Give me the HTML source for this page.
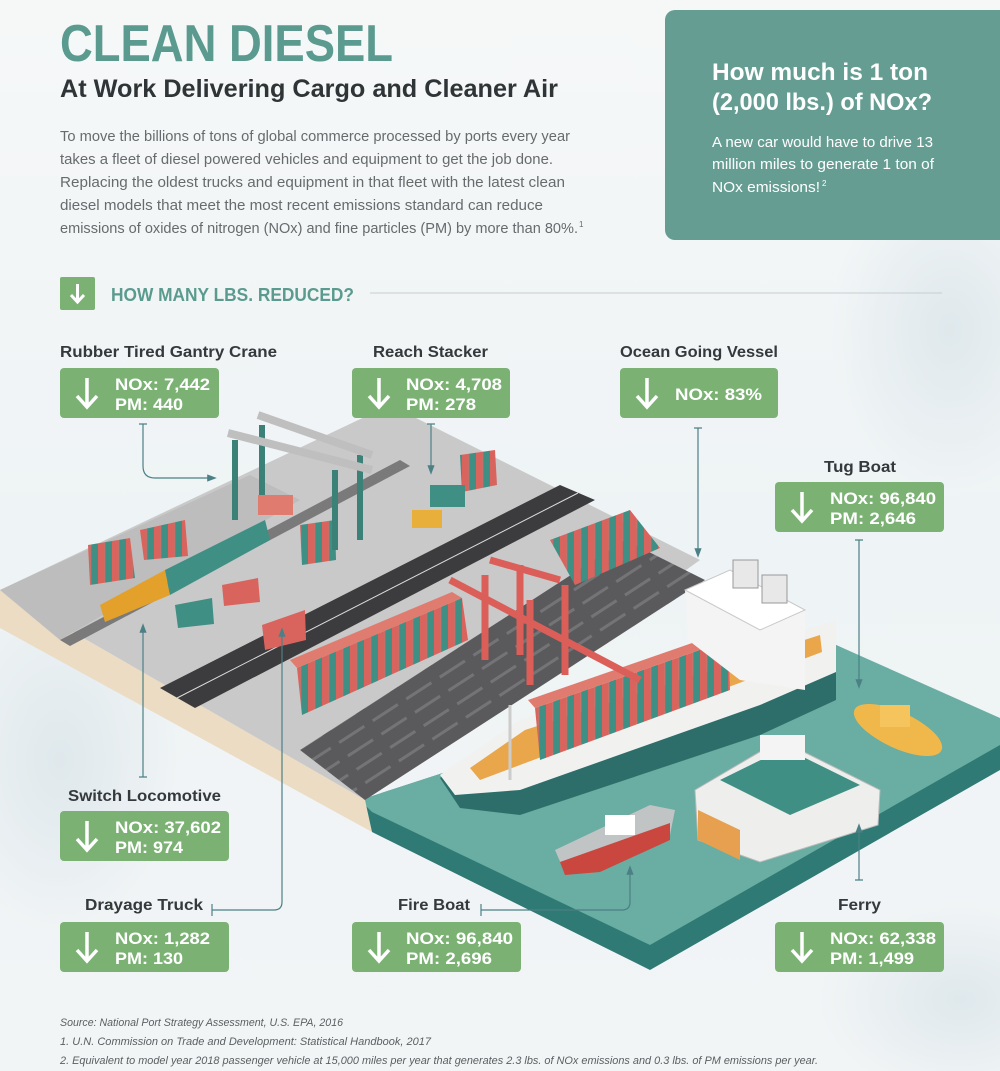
<!DOCTYPE html>
<html><head><meta charset="utf-8"><style>
html,body{margin:0;padding:0;}
body{width:1000px;height:1071px;overflow:hidden;background:#f3f6f7;}
svg{display:block;}
text{font-family:"Liberation Sans",sans-serif;}
</style></head><body>
<svg width="1000" height="1071" viewBox="0 0 1000 1071" xmlns="http://www.w3.org/2000/svg">
<defs>
<linearGradient id="bg" x1="0" y1="0" x2="0" y2="1">
<stop offset="0" stop-color="#f6f8f8"/><stop offset="0.5" stop-color="#eef3f5"/><stop offset="1" stop-color="#f2f5f6"/>
</linearGradient>
<radialGradient id="cl" cx="0.5" cy="0.5" r="0.5"><stop offset="0" stop-color="#dfe8ec"/><stop offset="1" stop-color="#dfe8ec" stop-opacity="0"/></radialGradient>
<pattern id="ct" width="14" height="10" patternUnits="userSpaceOnUse" patternTransform="skewY(-22)">
<rect width="7" height="10" fill="#d9645e"/><rect x="7" width="7" height="10" fill="#3f8f84"/>
</pattern>
<pattern id="ap" width="40" height="16" patternUnits="userSpaceOnUse" patternTransform="rotate(-33)">
<rect width="40" height="16" fill="#5a5a5c"/><rect y="6" width="30" height="3" fill="#747476"/>
</pattern>
<marker id="ar" markerWidth="8" markerHeight="8" refX="4" refY="4" orient="auto"><path d="M0,1 L8,4 L0,7 z" fill="#4b8085"/></marker>
</defs>
<rect width="1000" height="1071" fill="url(#bg)"/>
<ellipse cx="60" cy="760" rx="120" ry="180" fill="url(#cl)"/>
<ellipse cx="950" cy="330" rx="120" ry="160" fill="url(#cl)"/>
<ellipse cx="960" cy="1000" rx="140" ry="100" fill="url(#cl)"/>

<!-- header -->
<text x="60" y="61" font-size="52" font-weight="bold" fill="#5b9b8f" textLength="333" lengthAdjust="spacingAndGlyphs">CLEAN DIESEL</text>
<text x="60" y="97" font-size="25" font-weight="bold" fill="#2f3436" textLength="498" lengthAdjust="spacingAndGlyphs">At Work Delivering Cargo and Cleaner Air</text>
<g font-size="14.5" fill="#676b6d">
<text x="60" y="141" textLength="510" lengthAdjust="spacingAndGlyphs">To move the billions of tons of global commerce processed by ports every year</text>
<text x="60" y="164" textLength="493" lengthAdjust="spacingAndGlyphs">takes a fleet of diesel powered vehicles and equipment to get the job done.</text>
<text x="60" y="187" textLength="505" lengthAdjust="spacingAndGlyphs">Replacing the oldest trucks and equipment in that fleet with the latest clean</text>
<text x="60" y="210" textLength="483" lengthAdjust="spacingAndGlyphs">diesel models that meet the most recent emissions standard can reduce</text>
<text x="60" y="233" textLength="518" lengthAdjust="spacingAndGlyphs">emissions of oxides of nitrogen (NOx) and fine particles (PM) by more than 80%.</text>
<text x="579" y="227" font-size="8">1</text>
</g>
<rect x="665" y="10" width="345" height="230" rx="10" fill="#669d93"/>
<text x="712" y="80" font-size="24" font-weight="bold" fill="#fff" textLength="216" lengthAdjust="spacingAndGlyphs">How much is 1 ton</text>
<text x="712" y="110" font-size="24" font-weight="bold" fill="#fff" textLength="220" lengthAdjust="spacingAndGlyphs">(2,000 lbs.) of NOx?</text>
<g font-size="14.5" fill="#fff">
<text x="712" y="147" textLength="221" lengthAdjust="spacingAndGlyphs">A new car would have to drive 13</text>
<text x="712" y="169" textLength="222" lengthAdjust="spacingAndGlyphs">million miles to generate 1 ton of</text>
<text x="712" y="192" textLength="108" lengthAdjust="spacingAndGlyphs">NOx emissions!</text>
<text x="822" y="186" font-size="8">2</text>
</g>
<rect x="60" y="277" width="35" height="33" rx="2" fill="#7bb274"/>
<path d="M77.5,284 V301 M71,295 L77.5,302 L84,295" stroke="#fff" stroke-width="3" fill="none"/>
<text x="111" y="301" font-size="18" font-weight="bold" fill="#5b9b8f" textLength="243" lengthAdjust="spacingAndGlyphs">HOW MANY LBS. REDUCED?</text>
<line x1="370" y1="293" x2="942" y2="293" stroke="#c3cfd2" stroke-width="1"/>

<!-- illustration -->
<!-- water -->
<polygon points="360,800 836,645 1000,720 1000,770 650,970 372,832" fill="#2f7a74"/>
<polygon points="360,800 836,645 1000,718 1000,745 650,945 372,812" fill="#69ada3"/>
<!-- dock slab -->
<polygon points="0,590 365,800 372,832 0,628" fill="#ecdcc4"/>
<polygon points="0,590 390,405 700,560 365,800" fill="#c9c9c9"/>
<polygon points="0,590 250,475 300,500 60,640" fill="#bdbdbd"/>
<polygon points="300,750 625,540 705,580 365,800" fill="url(#ap)"/>
<polygon points="160,688 560,485 595,500 195,708" fill="#3c3c3e"/>
<line x1="177" y1="698" x2="578" y2="493" stroke="#ddd" stroke-width="1"/>
<polygon points="60,640 400,460 410,466 70,646" fill="#7a7a7a"/>
<!-- containers on dock -->
<polygon points="297,668 462,598 468,640 302,715" fill="url(#ct)"/>
<polygon points="297,668 462,598 452,592 290,660" fill="#e07b70"/>
<polygon points="550,540 630,510 660,548 575,585" fill="url(#ct)"/>
<polygon points="460,455 495,450 497,485 462,492" fill="url(#ct)"/>
<polygon points="88,545 130,538 135,578 90,585" fill="url(#ct)"/>
<polygon points="140,530 185,520 188,556 144,560" fill="url(#ct)"/>
<polygon points="175,605 212,598 214,624 178,628" fill="#3f8f84"/>
<polygon points="222,585 258,578 260,602 224,606" fill="#d9645e"/>
<polygon points="262,625 305,610 306,640 265,650" fill="#d9645e"/>
<polygon points="300,525 335,520 336,560 302,565" fill="url(#ct)"/>
<!-- train -->
<polygon points="100,605 165,570 170,595 105,622" fill="#e3a12b"/>
<polygon points="165,570 265,520 270,540 170,595" fill="#3f8f84"/>
<!-- gantry crane -->
<g stroke="#3c8178" stroke-width="6" fill="none">
<line x1="235" y1="440" x2="235" y2="520"/><line x1="262" y1="425" x2="262" y2="508"/>
<line x1="335" y1="470" x2="335" y2="550"/><line x1="360" y1="455" x2="360" y2="540"/>
</g>
<line x1="228" y1="433" x2="372" y2="470" stroke="#bfbfbf" stroke-width="8"/>
<line x1="258" y1="415" x2="372" y2="455" stroke="#bfbfbf" stroke-width="8"/>
<rect x="258" y="495" width="35" height="20" fill="#e07b70"/>
<!-- reach stacker -->
<rect x="412" y="510" width="30" height="18" fill="#e8b03a"/>
<rect x="430" y="485" width="35" height="22" fill="#3f8f84"/>
<!-- ship -->
<polygon points="440,778 520,722 836,622 836,700 760,735 520,815 460,808" fill="#2d6e6a"/>
<polygon points="440,775 520,720 836,620 836,672 760,705 520,790 455,795" fill="#f1f1ef"/>
<polygon points="470,768 525,730 820,635 822,652 520,765 480,780" fill="#e9a64a"/>
<polygon points="535,708 728,640 730,690 540,760" fill="url(#ct)"/>
<polygon points="535,708 728,640 718,634 528,700" fill="#e07b70"/>
<polygon points="685,590 730,570 805,610 805,690 740,680 688,640" fill="#f4f4f4"/>
<polygon points="685,590 730,570 805,610 760,630" fill="#fff" stroke="#c8c8c8"/>
<rect x="733" y="560" width="25" height="28" fill="#e8e8e8" stroke="#999"/>
<rect x="762" y="575" width="25" height="28" fill="#e8e8e8" stroke="#999"/>
<line x1="510" y1="705" x2="510" y2="780" stroke="#ccc" stroke-width="3"/>
<!-- red crane -->
<g stroke="#dc5e58" stroke-width="7" fill="none">
<line x1="450" y1="580" x2="640" y2="680"/>
<line x1="490" y1="560" x2="560" y2="580"/>
<line x1="485" y1="575" x2="485" y2="660"/><line x1="520" y1="565" x2="520" y2="655"/>
<line x1="530" y1="600" x2="530" y2="685"/><line x1="565" y1="585" x2="565" y2="675"/>
</g>
<!-- tug -->
<ellipse cx="898" cy="730" rx="48" ry="18" transform="rotate(25 898 730)" fill="#f0b84a"/>
<rect x="880" y="705" width="30" height="22" fill="#f6c45c"/>
<!-- ferry -->
<polygon points="695,790 780,740 880,790 878,825 760,862 698,840" fill="#eeeeec" stroke="#bbb"/>
<polygon points="720,780 785,748 860,785 790,815" fill="#3f8f84"/>
<rect x="760" y="735" width="45" height="25" fill="#f4f4f4"/>
<polygon points="698,810 740,830 740,860 698,840" fill="#e6a050"/>
<!-- fire boat -->
<polygon points="555,850 650,805 675,810 670,835 600,870 565,873" fill="#c0c4c4"/>
<polygon points="560,862 670,823 670,840 600,872 565,875" fill="#c9473f"/>
<rect x="605" y="815" width="30" height="20" fill="#fff"/>

<!-- connectors -->
<g stroke="#4b8085" stroke-width="1.2" fill="none">
<path d="M139,424 H147 M143,424 V466 Q143,478 155,478 H212" marker-end="url(#ar)"/>
<path d="M427,424 H435 M431,424 V470" marker-end="url(#ar)"/>
<path d="M694,428 H702 M698,428 V553" marker-end="url(#ar)"/>
<path d="M855,540 H863 M859,540 V684" marker-end="url(#ar)"/>
<path d="M139,777 H147 M143,777 V628" marker-end="url(#ar)"/>
<path d="M212,904 V916 M212,910 H274 Q282,910 282,902 V632" marker-end="url(#ar)"/>
<path d="M481,904 V916 M481,910 H622 Q630,910 630,902 V870" marker-end="url(#ar)"/>
<path d="M855,880 H863 M859,880 V828" marker-end="url(#ar)"/>
</g>

<!-- labels -->
<g font-size="16" font-weight="bold" fill="#34393b">
<text x="60" y="357" textLength="217" lengthAdjust="spacingAndGlyphs">Rubber Tired Gantry Crane</text>
<text x="373" y="357" textLength="115" lengthAdjust="spacingAndGlyphs">Reach Stacker</text>
<text x="620" y="357" textLength="158" lengthAdjust="spacingAndGlyphs">Ocean Going Vessel</text>
<text x="824" y="472" textLength="72" lengthAdjust="spacingAndGlyphs">Tug Boat</text>
<text x="68" y="801" textLength="153" lengthAdjust="spacingAndGlyphs">Switch Locomotive</text>
<text x="85" y="910" textLength="118" lengthAdjust="spacingAndGlyphs">Drayage Truck</text>
<text x="398" y="910" textLength="72" lengthAdjust="spacingAndGlyphs">Fire Boat</text>
<text x="838" y="910" textLength="43" lengthAdjust="spacingAndGlyphs">Ferry</text>
</g>

<g font-size="17" font-weight="bold" fill="#fff">
<g transform="translate(60,368)"><rect width="159" height="50" rx="4" fill="#7bb274"/>
<path d="M27,10 V38 M17,28 L27,39 L37,28" stroke="#fff" stroke-width="3.5" fill="none"/>
<text x="55" y="22" textLength="95" lengthAdjust="spacingAndGlyphs">NOx: 7,442</text><text x="55" y="42" textLength="68" lengthAdjust="spacingAndGlyphs">PM: 440</text></g>
<g transform="translate(352,368)"><rect width="158" height="50" rx="4" fill="#7bb274"/>
<path d="M27,10 V38 M17,28 L27,39 L37,28" stroke="#fff" stroke-width="3.5" fill="none"/>
<text x="54" y="22" textLength="96" lengthAdjust="spacingAndGlyphs">NOx: 4,708</text><text x="54" y="42" textLength="70" lengthAdjust="spacingAndGlyphs">PM: 278</text></g>
<g transform="translate(620,368)"><rect width="158" height="50" rx="4" fill="#7bb274"/>
<path d="M27,10 V38 M17,28 L27,39 L37,28" stroke="#fff" stroke-width="3.5" fill="none"/>
<text x="55" y="32" textLength="87" lengthAdjust="spacingAndGlyphs">NOx: 83%</text></g>
<g transform="translate(775,482)"><rect width="169" height="50" rx="4" fill="#7bb274"/>
<path d="M27,10 V38 M17,28 L27,39 L37,28" stroke="#fff" stroke-width="3.5" fill="none"/>
<text x="55" y="22" textLength="106" lengthAdjust="spacingAndGlyphs">NOx: 96,840</text><text x="55" y="42" textLength="86" lengthAdjust="spacingAndGlyphs">PM: 2,646</text></g>
<g transform="translate(60,811)"><rect width="169" height="50" rx="4" fill="#7bb274"/>
<path d="M27,10 V38 M17,28 L27,39 L37,28" stroke="#fff" stroke-width="3.5" fill="none"/>
<text x="55" y="22" textLength="106" lengthAdjust="spacingAndGlyphs">NOx: 37,602</text><text x="55" y="42" textLength="68" lengthAdjust="spacingAndGlyphs">PM: 974</text></g>
<g transform="translate(60,922)"><rect width="169" height="50" rx="4" fill="#7bb274"/>
<path d="M27,10 V38 M17,28 L27,39 L37,28" stroke="#fff" stroke-width="3.5" fill="none"/>
<text x="55" y="22" textLength="95" lengthAdjust="spacingAndGlyphs">NOx: 1,282</text><text x="55" y="42" textLength="68" lengthAdjust="spacingAndGlyphs">PM: 130</text></g>
<g transform="translate(352,922)"><rect width="169" height="50" rx="4" fill="#7bb274"/>
<path d="M27,10 V38 M17,28 L27,39 L37,28" stroke="#fff" stroke-width="3.5" fill="none"/>
<text x="54" y="22" textLength="107" lengthAdjust="spacingAndGlyphs">NOx: 96,840</text><text x="54" y="42" textLength="86" lengthAdjust="spacingAndGlyphs">PM: 2,696</text></g>
<g transform="translate(775,922)"><rect width="169" height="50" rx="4" fill="#7bb274"/>
<path d="M27,10 V38 M17,28 L27,39 L37,28" stroke="#fff" stroke-width="3.5" fill="none"/>
<text x="55" y="22" textLength="106" lengthAdjust="spacingAndGlyphs">NOx: 62,338</text><text x="55" y="42" textLength="84" lengthAdjust="spacingAndGlyphs">PM: 1,499</text></g>
</g>

<!-- footnotes -->
<g font-size="11" font-style="italic" fill="#5a5f61">
<text x="60" y="1026" textLength="283" lengthAdjust="spacingAndGlyphs">Source: National Port Strategy Assessment, U.S. EPA, 2016</text>
<text x="60" y="1045" textLength="371" lengthAdjust="spacingAndGlyphs">1. U.N. Commission on Trade and Development: Statistical Handbook, 2017</text>
<text x="60" y="1064" textLength="758" lengthAdjust="spacingAndGlyphs">2. Equivalent to model year 2018 passenger vehicle at 15,000 miles per year that generates 2.3 lbs. of NOx emissions and 0.3 lbs. of PM emissions per year.</text>
</g>
</svg>
</body></html>
